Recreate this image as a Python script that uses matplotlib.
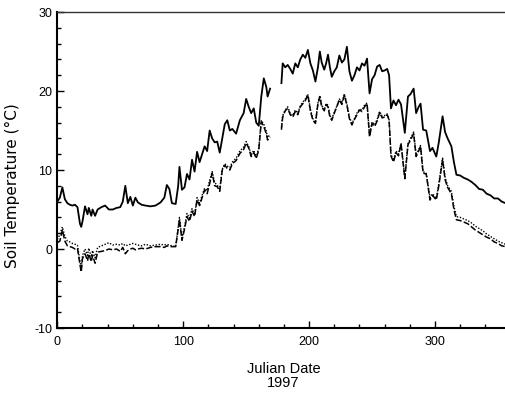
import numpy as np
import matplotlib
matplotlib.use("Agg")
import matplotlib.pyplot as plt
from matplotlib.ticker import MultipleLocator

plt.rcParams['font.family'] = ['Liberation Sans', 'DejaVu Sans']
plt.rcParams['axes.unicode_minus'] = False

nan = np.nan

# Julian date of each reading
days = [0, 2, 4, 6, 8, 10, 12, 14, 16, 18, 19, 20, 22, 24, 25, 27, 28, 30, 32, 35,
        38, 41, 44, 47, 50, 52, 54, 56, 58, 60, 62, 64, 67, 70, 74, 78, 82, 85, 87, 89,
        91, 94, 96, 97, 99, 101, 103, 105, 107, 109, 111, 113, 115, 117, 119, 121, 123, 125, 127, 129,
        131, 133, 135, 137, 139, 142, 145, 148, 150, 152, 154, 156, 158, 160, 162, 164, 166, 167, 169, 173,
        178, 179, 181, 183, 185, 187, 189, 191, 193, 195, 197, 199, 201, 203, 205, 207, 208.5, 210, 212, 213.5,
        215, 216.5, 218, 220, 222, 224, 226, 228, 230, 232, 234, 236, 238, 240, 242, 244, 246, 248, 250, 252,
        254, 256, 258, 260, 262, 263.5, 265, 267, 269, 271, 273, 276, 278.5, 280.5, 283, 285, 287, 288.5, 290.5, 293,
        296, 298, 301, 303, 306, 308, 310, 313, 315, 317, 320, 323, 326, 329, 332, 335, 338, 341, 344, 347,
        350, 353, 356]

# solid line
soil_solid = [6.0, 6.5, 7.8, 6.3, 5.8, 5.6, 5.5, 5.6, 5.3, 3.2, 2.8, 3.5, 5.4, 4.4, 5.2, 4.2, 5.0, 4.2, 5.0, 5.3,
              5.5, 5.0, 5.0, 5.2, 5.3, 6.0, 8.0, 5.8, 6.6, 5.5, 6.5, 5.9, 5.6, 5.5, 5.4, 5.5, 5.9, 6.5, 8.1, 7.6,
              5.8, 5.7, 8.0, 10.4, 7.5, 7.8, 9.5, 8.8, 11.3, 9.8, 12.3, 11.0, 12.0, 13.0, 12.4, 15.0, 14.0, 13.5, 13.6, 12.2,
              14.0, 15.8, 16.3, 15.0, 15.2, 14.6, 16.3, 17.2, 19.0, 18.0, 17.2, 17.8, 16.0, 15.6, 19.3, 21.6, 20.5, 19.3, 20.3, nan,
              21.0, 23.5, 23.0, 23.3, 22.8, 22.2, 23.5, 23.0, 24.0, 24.6, 24.2, 25.2, 23.5, 22.6, 21.2, 23.0, 25.0, 23.6, 22.7, 23.5,
              24.6, 23.0, 21.8, 22.5, 23.0, 24.5, 23.6, 24.0, 25.6, 22.5, 21.3, 22.0, 23.0, 22.6, 23.5, 23.2, 24.1, 19.7, 21.5, 22.0,
              23.1, 23.3, 22.5, 22.6, 22.8, 22.0, 17.8, 18.8, 18.2, 18.9, 18.3, 14.7, 19.3, 19.6, 20.3, 17.2, 18.0, 18.4, 15.1, 15.0,
              12.4, 12.8, 11.7, 13.5, 16.8, 14.8, 14.0, 13.0, 11.0, 9.4, 9.3, 9.0, 8.8, 8.5, 8.1, 7.6, 7.5, 7.0, 6.8, 6.4,
              6.4, 6.0, 5.8]

# dashed line
soil_dashed = [0.8, 1.0, 2.4, 1.0, 0.4, 0.3, 0.2, 0.0, 0.1, -2.0, -2.9, -1.2, -0.6, -1.5, -0.6, -1.6, -0.8, -1.8, -0.4, -0.3,
               -0.2, 0.0, -0.1, 0.0, -0.3, 0.2, -0.6, -0.2, 0.0, 0.1, -0.1, 0.0, 0.1, 0.0, 0.2, 0.3, 0.3, 0.2, 0.4, 0.3,
               0.3, 0.3, 2.5, 3.7, 1.1, 2.5, 4.1, 3.5, 4.8, 4.1, 6.2, 5.5, 6.5, 7.5, 7.0, 8.3, 9.6, 8.0, 7.9, 7.3,
               10.0, 10.6, 10.2, 10.0, 10.8, 11.2, 12.1, 12.6, 13.4, 12.8, 11.7, 12.2, 11.5, 12.5, 16.1, 15.5, 14.6, 13.8, 14.2, nan,
               15.1, 16.7, 17.5, 17.8, 17.0, 16.7, 17.4, 17.0, 18.0, 18.4, 18.8, 19.5, 17.5, 16.3, 15.9, 18.4, 19.3, 18.0, 17.5, 18.3,
               18.0, 16.7, 16.3, 17.2, 18.0, 18.9, 18.3, 19.5, 18.2, 16.5, 15.7, 16.4, 17.0, 17.6, 17.4, 18.0, 18.4, 14.2, 15.9, 15.5,
               16.2, 17.3, 16.6, 16.7, 17.0, 16.3, 11.8, 11.0, 12.2, 11.8, 13.3, 8.9, 13.2, 13.8, 14.6, 11.7, 12.4, 13.0, 9.6, 9.5,
               6.2, 6.8, 6.2, 8.0, 11.3, 8.8, 7.8, 7.0, 5.0, 3.7, 3.6, 3.4, 3.2, 2.8, 2.4, 2.1, 1.8, 1.5, 1.3, 0.9,
               0.7, 0.4, 0.3]

# dotted line
soil_dotted = [1.2, 1.8, 2.8, 1.6, 1.0, 0.9, 0.7, 0.6, 0.5, -1.6, -2.4, -0.8, 0.0, -0.8, 0.1, -1.0, -0.2, -1.1, 0.2, 0.4,
               0.6, 0.8, 0.5, 0.6, 0.5, 0.7, 0.4, 0.5, 0.6, 0.7, 0.6, 0.5, 0.4, 0.6, 0.4, 0.5, 0.6, 0.5, 0.6, 0.5,
               0.4, 0.3, 2.8, 4.0, 1.4, 2.8, 4.5, 3.9, 5.1, 4.3, 6.5, 5.8, 6.8, 7.7, 7.4, 8.7, 9.8, 8.4, 8.1, 7.6,
               10.1, 10.8, 10.5, 10.3, 11.0, 11.5, 12.4, 12.9, 13.6, 13.0, 11.9, 12.5, 11.6, 12.8, 16.3, 15.8, 14.9, 14.1, 14.5, nan,
               15.4, 16.9, 17.6, 18.0, 17.2, 16.9, 17.6, 17.2, 18.1, 18.6, 19.0, 19.6, 17.7, 16.5, 16.0, 18.5, 19.4, 18.2, 17.6, 18.4,
               18.2, 16.9, 16.5, 17.3, 18.1, 19.0, 18.5, 19.6, 18.4, 16.7, 15.9, 16.5, 17.2, 17.7, 17.6, 18.2, 18.5, 14.4, 16.1, 15.7,
               16.4, 17.4, 16.8, 16.9, 17.1, 16.5, 12.0, 11.2, 12.4, 12.0, 13.4, 9.1, 13.3, 14.0, 14.8, 11.9, 12.6, 13.1, 9.8, 9.6,
               6.5, 7.0, 6.4, 8.3, 11.5, 9.1, 8.0, 7.3, 5.4, 4.1, 4.0, 3.8, 3.6, 3.3, 2.9, 2.6, 2.3, 1.9, 1.6, 1.3,
               1.0, 0.8, 0.6]

fig = plt.figure(figsize=(5.05, 3.94), dpi=100)
ax = fig.add_axes([0.1135, 0.1675, 0.910, 0.802])

ax.plot(days, soil_solid, color='black', lw=1.3, ls='-')
ax.plot(days, soil_dashed, color='black', lw=1.1, ls=(0, (4, 1.5)))
ax.plot(days, soil_dotted, color='black', lw=1.0, ls=(0, (1, 1.2)))

ax.set_xlim(0, 365)
ax.set_ylim(-10, 30)
ax.xaxis.set_major_locator(MultipleLocator(100))
ax.xaxis.set_minor_locator(MultipleLocator(20))
ax.yaxis.set_major_locator(MultipleLocator(10))
ax.yaxis.set_minor_locator(MultipleLocator(2))
ax.tick_params(which='both', direction='in', labelsize=9, width=1)
ax.tick_params(which='major', length=5)
ax.tick_params(which='minor', length=3)
ax.tick_params(axis='x', pad=6)

for s in ['left', 'bottom']:
    ax.spines[s].set_linewidth(1.5)
ax.spines['top'].set_linewidth(1.0)
ax.spines['top'].set_color('#333333')
ax.spines['right'].set_visible(False)

fig.text(12 / 505, 1 - 186 / 394, 'Soil Temperature (\u00b0C)', rotation=90,
         ha='center', va='center', fontsize=11, family=['DejaVu Sans'])
fig.text(284 / 505, 1 - 369 / 394, 'Julian Date', ha='center', va='center', fontsize=10.5)
fig.text(283 / 505, 1 - 383 / 394, '1997', ha='center', va='center', fontsize=10.5)

fig.savefig('out.png', dpi=100)
